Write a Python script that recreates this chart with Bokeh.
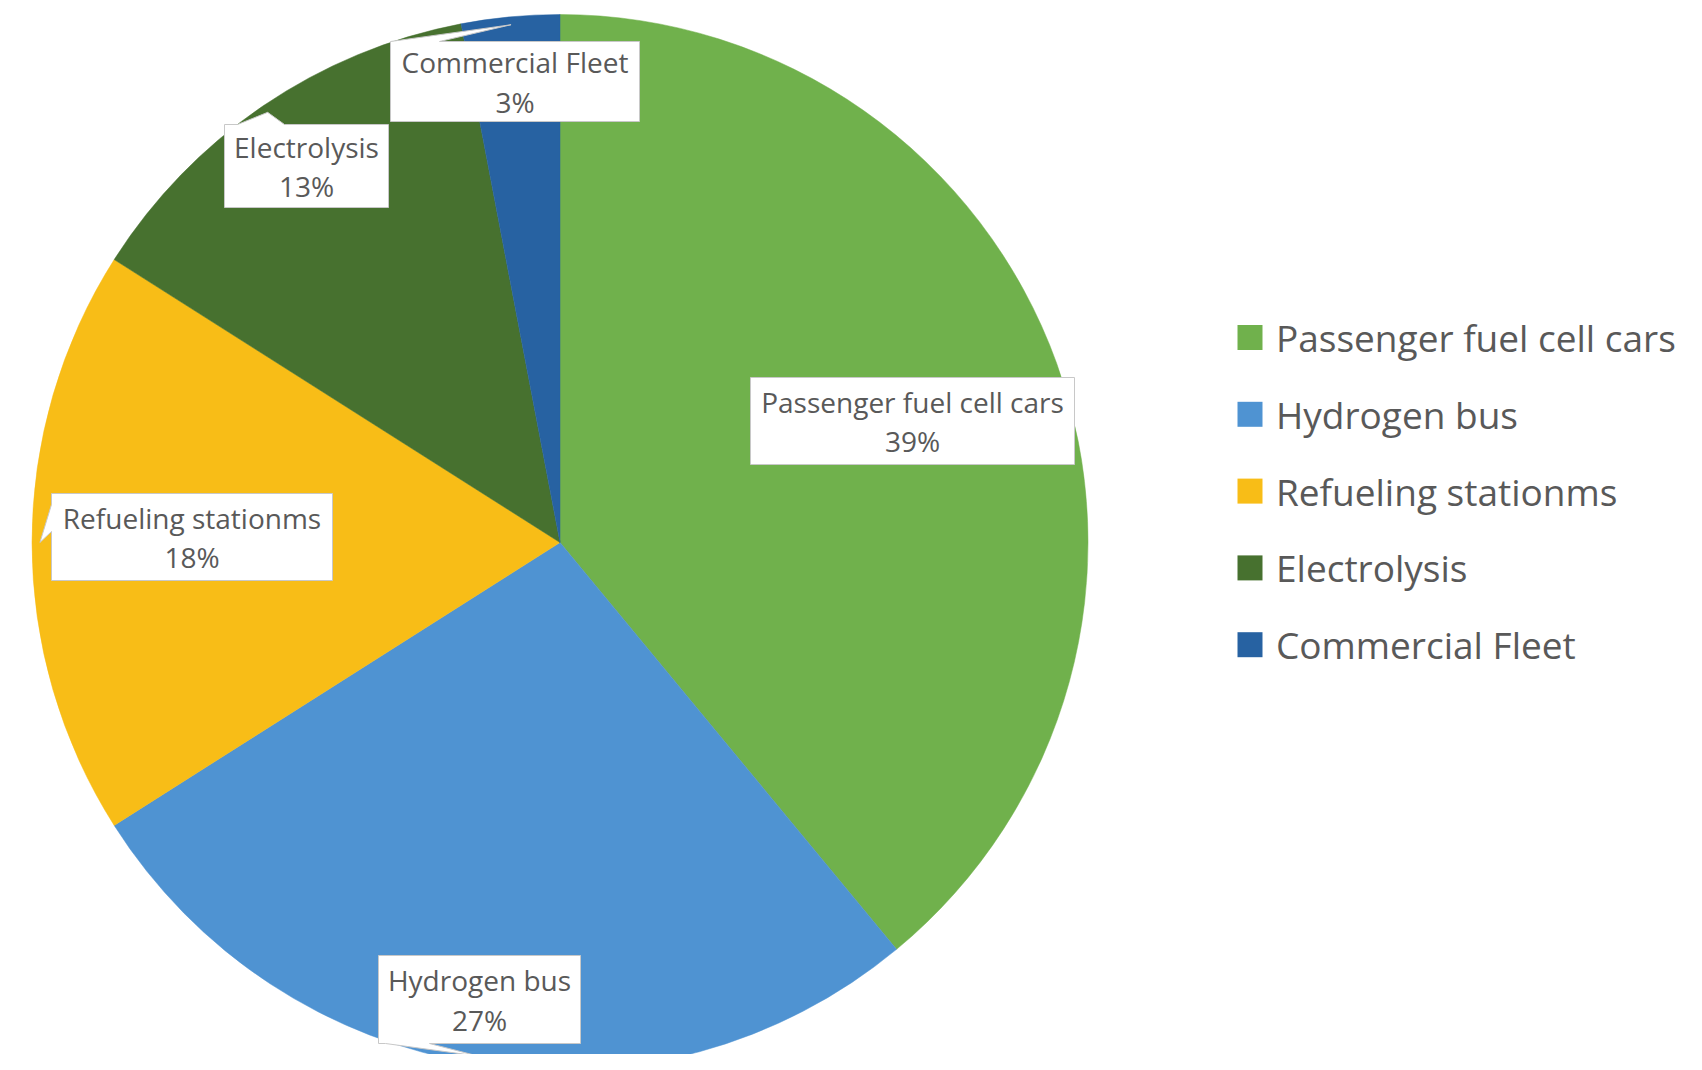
import math
from bokeh.plotting import figure
from bokeh.models import Range1d, ColumnDataSource
from bokeh.core.properties import value
from bokeh.embed import file_html
from bokeh.resources import INLINE

# ---------------- data ----------------
categories = ["Passenger fuel cell cars", "Hydrogen bus", "Refueling stationms",
              "Electrolysis", "Commercial Fleet"]
values = [39, 27, 18, 13, 3]
colors = ["#70B14C", "#4F93D2", "#F8BD17", "#47712F", "#2762A2"]

# ---------------- layout (page pixels) ----------------
W, H = 1686, 1054
OFF = 1
def X(px): return px - OFF
def Y(py): return H - (py - OFF)

CX, CY, R = 560.5, 543.0, 528.0

# label boxes: left, top, right, bottom, pointer side, pointer base extent
boxes = [
    (751, 378, 1075, 465, None, None),
    (379, 956, 581, 1044, "bottom", (386, 430)),
    (52, 494, 333, 581, "left", (505, 532)),
    (225, 125, 389, 208, "top", (238, 285)),
    (391, 42, 640, 122, "top", (391, 440)),
]
LEG_X, LEG_Y0, LEG_DY, LEG_SQ = 1250.5, 338, 76.8, 25
FONT = "Open Sans"
TEXT_COLOR = "#595959"

p = figure(width=W, height=H, output_backend="svg", toolbar_location=None,
           x_range=Range1d(0, W), y_range=Range1d(0, H),
           x_axis_type=None, y_axis_type=None, min_border=0)
p.grid.visible = False
p.outline_line_color = None
p.background_fill_color = "white"
p.border_fill_color = "white"

total = float(sum(values))
cum = [0.0]
for v in values:
    cum.append(cum[-1] + v / total)

starts = [math.pi / 2 - 2 * math.pi * cum[i + 1] for i in range(len(values))]
ends = [math.pi / 2 - 2 * math.pi * cum[i] for i in range(len(values))]
src = ColumnDataSource(dict(start=starts, end=ends, color=colors, cat=categories, val=values))
p.wedge(x=X(CX), y=Y(CY), radius=R, start_angle="start", end_angle="end",
        fill_color="color", line_color="color", line_width=0.5, source=src)

# ---------------- callout labels ----------------
polys_x, polys_y = [], []
line1, line2 = [], []
for i, (l, t, r, b, side, base) in enumerate(boxes):
    mid = (cum[i] + cum[i + 1]) / 2 * 2 * math.pi
    tipx = CX + 0.985 * R * math.sin(mid)
    tipy = CY - 0.985 * R * math.cos(mid)
    if side == "top":
        pts = [(l, t), (base[0], t), (tipx, tipy), (base[1], t), (r, t), (r, b), (l, b)]
    elif side == "left":
        pts = [(l, t), (r, t), (r, b), (l, b), (l, base[1]), (tipx, tipy), (l, base[0])]
    elif side == "bottom":
        pts = [(l, t), (r, t), (r, b), (base[1], b), (tipx, tipy), (base[0], b), (l, b)]
    else:
        pts = [(l, t), (r, t), (r, b), (l, b)]
    polys_x.append([X(px) for px, _ in pts])
    polys_y.append([Y(py) for _, py in pts])
    cx = (l + r) / 2
    cy = (t + b) / 2
    pct = f"{round(values[i] / total * 100)}%"
    line1.append((X(cx), Y(cy - 19.5), categories[i]))
    line2.append((X(cx), Y(cy + 20), pct))

p.patches(xs=polys_x, ys=polys_y, fill_color="white", line_color="#C8C8C8", line_width=1)

for rows in (line1, line2):
    p.text(x=[a for a, _, _ in rows], y=[b for _, b, _ in rows], text=[c for _, _, c in rows],
           text_font=value(FONT), text_font_size="28px", text_color=TEXT_COLOR,
           text_align="center", text_baseline="middle")

# ---------------- legend ----------------
leg_y = [LEG_Y0 + k * LEG_DY for k in range(len(categories))]
p.rect(x=[X(LEG_X)] * len(categories), y=[Y(v) for v in leg_y], width=LEG_SQ, height=LEG_SQ,
       fill_color=colors, line_color=None)
p.text(x=[X(LEG_X + 26)] * len(categories), y=[Y(v) for v in leg_y], text=categories,
       text_font=value(FONT), text_font_size="37px", text_color=TEXT_COLOR,
       text_align="left", text_baseline="middle")

open("out.html", "w").write(file_html(p, INLINE))
